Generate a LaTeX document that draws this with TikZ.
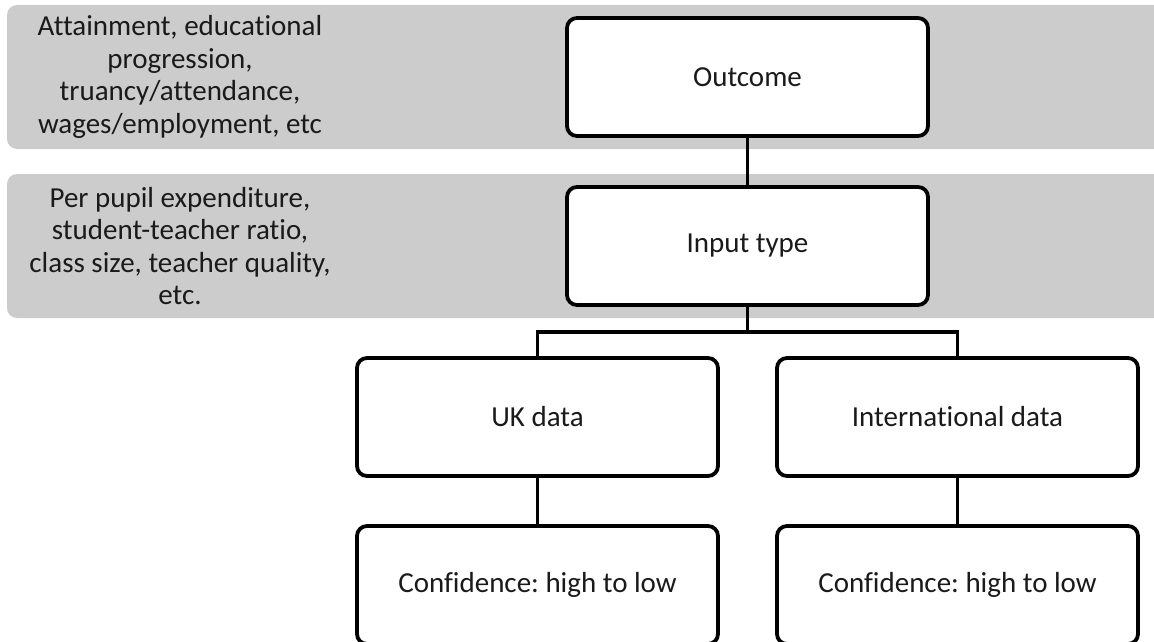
\documentclass[tikz,border=0pt]{standalone}
\usepackage{fontspec}
\setmainfont{Carlito}[RawFeature=-liga]
\frenchspacing
\definecolor{bandgray}{HTML}{CCCCCC}
\definecolor{inkgray}{HTML}{1A1A1A}
\begin{document}
\begin{tikzpicture}[x=1pt,y=-1pt,
  band/.style={fill=bandgray, rounded corners=10pt},
  box/.style={draw=black, fill=white, line width=3.8pt, rounded corners=10pt,
    minimum width=361pt, minimum height=118pt, inner sep=0pt,
    text=inkgray, font=\fontsize{29}{32.5}\selectfont\frenchspacing},
  conn/.style={draw=black, line width=3.8pt},
  note/.style={align=center, text=inkgray, font=\fontsize{29}{32.5}\selectfont\frenchspacing}]
\useasboundingbox (0,0) rectangle (1154,642);
% background bands
\fill[band] (7,5) rectangle (1170,149);
\fill[band] (7,174) rectangle (1170,318);
% band labels
\node[note] (lab1) at (180,77) {Attainment, educational\\progression,\\truancy/attendance,\\wages/employment, etc};
\node[note] (lab2) at (180,246) {Per pupil expenditure,\\student-teacher ratio,\\class size, teacher quality,\\etc.};
% boxes
\node[box] (out) at (747.5,77) {Outcome};
\node[box] (inp) at (747.5,246) {Input type};
\node[box] (uk) at (537.5,417) {UK data};
\node[box] (intl) at (957.5,417) {International data};
\node[box] (c1) at (537.5,585) {Confidence: high to low};
\node[box] (c2) at (957.5,585) {Confidence: high to low};
% connectors
\coordinate (split) at (747.5,332);
\draw[conn] (out.south) -- (inp.north);
\draw[conn] (inp.south) -- (split);
\draw[conn] (uk.north) |- (split) -| (intl.north);
\draw[conn] (uk.south) -- (c1.north);
\draw[conn] (intl.south) -- (c2.north);
\end{tikzpicture}
\end{document}
